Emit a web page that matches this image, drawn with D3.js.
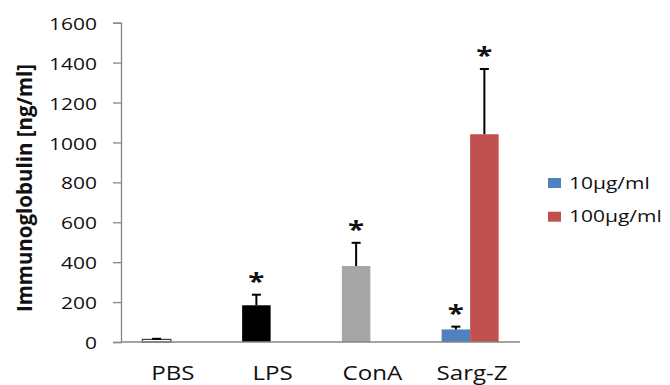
<!DOCTYPE html>
<html><head><meta charset="utf-8">
<script src="https://cdn.jsdelivr.net/npm/d3@7"></script>
<style>
html,body{margin:0;padding:0;background:#fff;}
text{font-family:"Open Sans",sans-serif;}
</style></head>
<body>
<svg id="chart" width="670" height="385"></svg>
<script>
const categories = ["PBS", "LPS", "ConA", "Sarg-Z"];
const seriesNames = ["10µg/ml", "100µg/ml"];
const values10 = [13, 184, 381, 63];
const errors10 = [3, 53, 116, 14];
const values100 = [null, null, null, 1041];
const errors100 = [null, null, null, 327];
const significant10 = [false, true, true, true];
const significant100 = [false, false, false, true];
const yTicks = [0, 200, 400, 600, 800, 1000, 1200, 1400, 1600];
const pointColors10 = ["#ffffff", "#000000", "#a6a6a6", "#4f81bd"];
const seriesColors = ["#4f81bd", "#c0504d"];

const SX = 1.28;
const svg = d3.select("#chart");
const mLeft = 121, mRight = 520, mTop = 22.7, mBottom = 342;

const x = d3.scaleBand().domain(categories).range([mLeft, mRight]).paddingInner(0.4286).paddingOuter(0.2143);
const xs = d3.scaleBand().domain([0, 1]).range([0, x.bandwidth()]);
const y = d3.scaleLinear().domain([0, 1600]).range([mBottom, mTop]);

// y axis
const yAxis = svg.append("g").attr("transform", `translate(${mLeft},0)`)
  .call(d3.axisLeft(y).tickValues(yTicks).tickSize(8).tickPadding(0).tickFormat(d3.format("d")));
yAxis.select(".domain").attr("stroke", "#868686").attr("stroke-width", 1.3);
yAxis.selectAll(".tick line").attr("stroke", "#868686").attr("stroke-width", 1.3);
yAxis.selectAll(".tick text")
  .attr("x", 0).attr("dy", "0.4em")
  .attr("transform", `translate(-24,0) scale(${SX},1)`)
  .attr("font-size", 16.4).attr("fill", "#111")
  .attr("font-family", "'Open Sans',sans-serif");

// bars
const rows = categories.map((c, i) => [
  {cat: c, s: 0, v: values10[i], e: errors10[i], sig: significant10[i], fill: pointColors10[i]},
  {cat: c, s: 1, v: values100[i], e: errors100[i], sig: significant100[i], fill: seriesColors[1]}
]).flat().filter(d => d.v != null);

const g = svg.append("g");
g.selectAll("rect").data(rows).join("rect")
  .attr("x", d => x(d.cat) + xs(d.s))
  .attr("width", xs.bandwidth())
  .attr("y", d => y(d.v))
  .attr("height", d => y(0) - y(d.v))
  .attr("fill", d => d.fill)
  .attr("stroke", d => d.fill === "#ffffff" ? "#404040" : "none")
  .attr("stroke-width", 1.2);

// error bars
const eb = g.selectAll(".eb").data(rows).join("g").attr("class", "eb");
eb.append("line")
  .attr("x1", d => x(d.cat) + xs(d.s) + xs.bandwidth() / 2)
  .attr("x2", d => x(d.cat) + xs(d.s) + xs.bandwidth() / 2)
  .attr("y1", d => y(d.v)).attr("y2", d => y(d.v + d.e))
  .attr("stroke", "#000").attr("stroke-width", 2);
eb.append("line")
  .attr("x1", d => x(d.cat) + xs(d.s) + xs.bandwidth() / 2 - 4.5)
  .attr("x2", d => x(d.cat) + xs(d.s) + xs.bandwidth() / 2 + 4.5)
  .attr("y1", d => y(d.v + d.e)).attr("y2", d => y(d.v + d.e))
  .attr("stroke", "#000").attr("stroke-width", 2);

// asterisks
g.selectAll(".sig").data(rows.filter(d => d.sig)).join("text").attr("class", "sig")
  .attr("transform", d => `translate(${x(d.cat) + xs(d.s) + xs.bandwidth() / 2},${y(d.v + d.e) - 5}) scale(${SX},1)`)
  .attr("text-anchor", "middle").attr("font-size", 23).attr("font-weight", "bold").attr("fill", "#111")
  .text("*");

// x axis line
svg.append("line").attr("x1", mLeft).attr("x2", mRight).attr("y1", mBottom).attr("y2", mBottom)
  .attr("stroke", "#868686").attr("stroke-width", 1.3);

// category labels
svg.selectAll(".cat").data(categories).join("text").attr("class", "cat")
  .attr("transform", d => `translate(${x(d) + x.bandwidth() / 2 + 2},380) scale(${SX - 0.05},1)`)
  .attr("text-anchor", "middle").attr("font-size", 19.6).attr("fill", "#111")
  .text(d => d);

// y title
svg.append("text")
  .attr("transform", `translate(32,188) rotate(-90) scale(1,1.05)`)
  .attr("text-anchor", "middle").attr("font-size", 20.5).attr("font-weight", "bold").attr("fill", "#111")
  .text("Immunoglobulin [ng/ml]");

// legend
const leg = svg.append("g");
seriesNames.forEach((n, i) => {
  leg.append("rect").attr("x", 548).attr("y", 178 + i * 33.7).attr("width", 13).attr("height", 10)
    .attr("fill", seriesColors[i]);
  leg.append("text")
    .attr("transform", `translate(569,${188.5 + i * 33.7}) scale(${SX},1)`)
    .attr("font-size", 16.4).attr("fill", "#111").text(n);
});
</script>
</body></html>
